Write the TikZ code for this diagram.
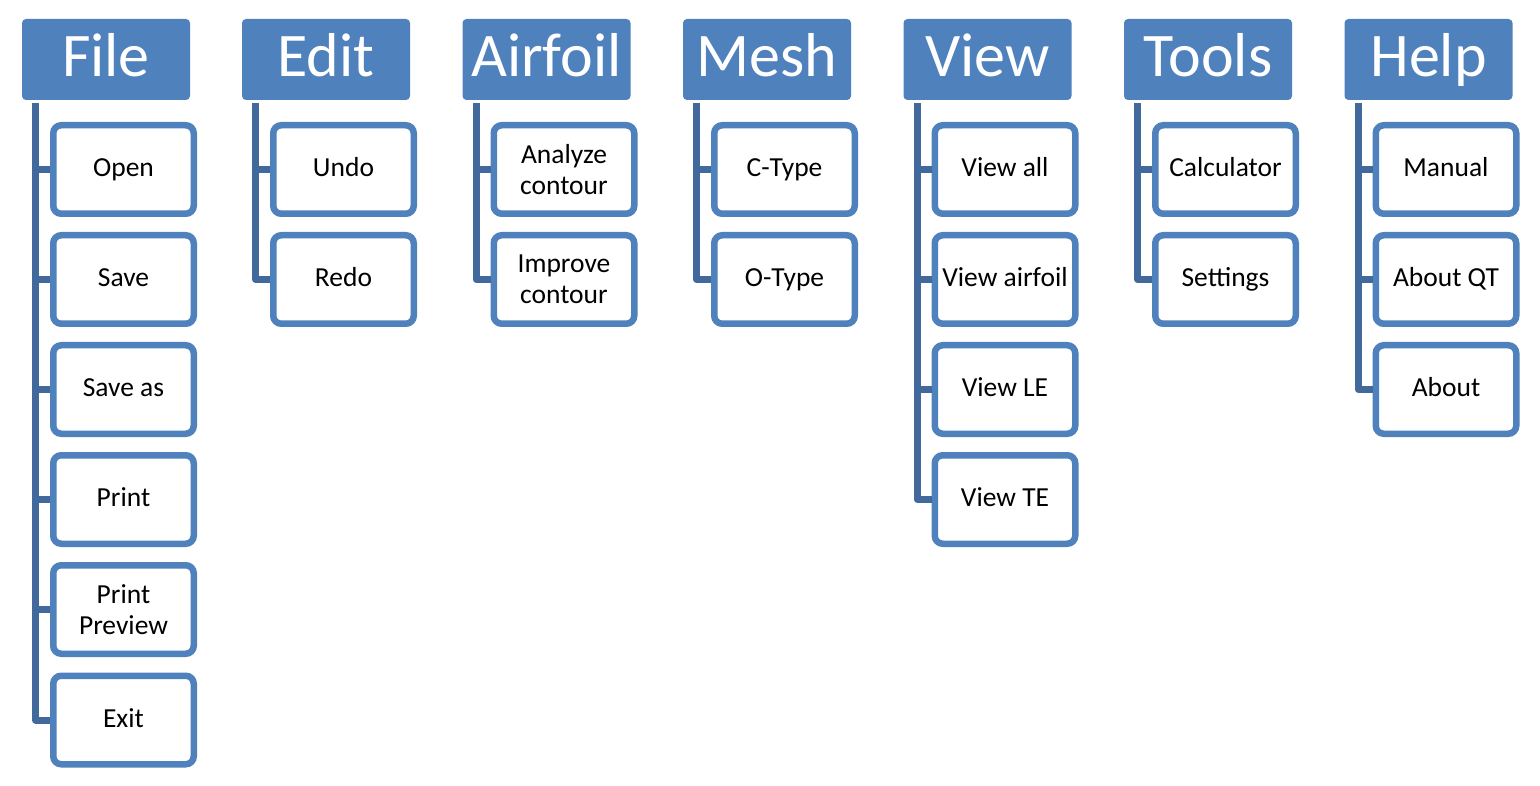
\documentclass[tikz,border=0pt]{standalone}
\usepackage{fontspec}
\setmainfont{Carlito}
\usepackage{tikz}
\usetikzlibrary{positioning,calc}

\definecolor{menublue}{HTML}{4F81BD}
\definecolor{linkblue}{HTML}{41699B}

\begin{document}
\begin{tikzpicture}[x=1pt,y=-1pt,
  menu/.style={fill=menublue,text=white,rounded corners=4pt,minimum width=168pt,minimum height=81pt,inner sep=0pt,text height=42pt,text depth=7.6pt,font=\fontsize{62}{62}\selectfont},
  item/.style={draw=menublue,fill=white,line width=6.5pt,rounded corners=8pt,minimum width=140.5pt,minimum height=88.5pt,inner sep=0pt,align=center,text height=18pt,text depth=4pt,font=\fontsize{27.5}{31}\selectfont},
  twoline/.style={text height={},text depth={}},
  branch/.style={draw=linkblue,line width=7pt,line join=round,shorten <=3pt}]
\useasboundingbox (0,0) rectangle (1540,786);

% menu headers
\node[menu,name=file] at (106,59.5) {File};
\node[menu,name=edit] at (326,59.5) {Edit};
\node[menu,name=airfoil] at (546.5,59.5) {Airfoil};
\node[menu,name=mesh] at (767,59.5) {Mesh};
\node[menu,name=view] at (987.5,59.5) {View};
\node[menu,name=tools] at (1208,59.5) {Tools};
\node[menu,name=help] at (1428.5,59.5) {Help};

% File
\node[item,name=open] at (123.5,169.5) {Open};
\node[item,name=save] at (123.5,279.5) {Save};
\node[item,name=saveas] at (123.5,389.5) {Save as};
\node[item,name=print] at (123.5,499.5) {Print};
\node[item,twoline,name=preview] at (123.5,609.5) {Print\\Preview};
\node[item,name=exit] at (123.5,720) {Exit};

% Edit
\node[item,name=undo] at (343.5,169.5) {Undo};
\node[item,name=redo] at (343.5,279.5) {Redo};

% Airfoil
\node[item,twoline,name=analyze] at (564,169.5) {Analyze\\contour};
\node[item,twoline,name=improve] at (564,279.5) {Improve\\contour};

% Mesh
\node[item,name=ctype] at (784.5,169.5) {C-Type};
\node[item,name=otype] at (784.5,279.5) {O-Type};

% View
\node[item,name=viewall] at (1005,169.5) {View all};
\node[item,name=viewairfoil] at (1005,279.5) {View airfoil};
\node[item,name=viewle] at (1005,389.5) {View LE};
\node[item,name=viewte] at (1005,499.5) {View TE};

% Tools
\node[item,name=calc] at (1225.5,169.5) {Calculator};
\node[item,name=settings] at (1225.5,279.5) {Settings};

% Help
\node[item,name=manual] at (1446,169.5) {Manual};
\node[item,name=aboutqt] at (1446,279.5) {About QT};
\node[item,name=about] at (1446,389.5) {About};

\draw[branch] ([xshift=14pt]file.south west) |- (open.west);
\draw[branch] ([xshift=14pt]file.south west) |- (save.west);
\draw[branch] ([xshift=14pt]file.south west) |- (saveas.west);
\draw[branch] ([xshift=14pt]file.south west) |- (print.west);
\draw[branch] ([xshift=14pt]file.south west) |- (preview.west);
\draw[branch] ([xshift=14pt]file.south west) |- (exit.west);

\draw[branch] ([xshift=14pt]edit.south west) |- (undo.west);
\draw[branch] ([xshift=14pt]edit.south west) |- (redo.west);

\draw[branch] ([xshift=14pt]airfoil.south west) |- (analyze.west);
\draw[branch] ([xshift=14pt]airfoil.south west) |- (improve.west);

\draw[branch] ([xshift=14pt]mesh.south west) |- (ctype.west);
\draw[branch] ([xshift=14pt]mesh.south west) |- (otype.west);

\draw[branch] ([xshift=14pt]view.south west) |- (viewall.west);
\draw[branch] ([xshift=14pt]view.south west) |- (viewairfoil.west);
\draw[branch] ([xshift=14pt]view.south west) |- (viewle.west);
\draw[branch] ([xshift=14pt]view.south west) |- (viewte.west);

\draw[branch] ([xshift=14pt]tools.south west) |- (calc.west);
\draw[branch] ([xshift=14pt]tools.south west) |- (settings.west);

\draw[branch] ([xshift=14pt]help.south west) |- (manual.west);
\draw[branch] ([xshift=14pt]help.south west) |- (aboutqt.west);
\draw[branch] ([xshift=14pt]help.south west) |- (about.west);
\end{tikzpicture}
\end{document}
